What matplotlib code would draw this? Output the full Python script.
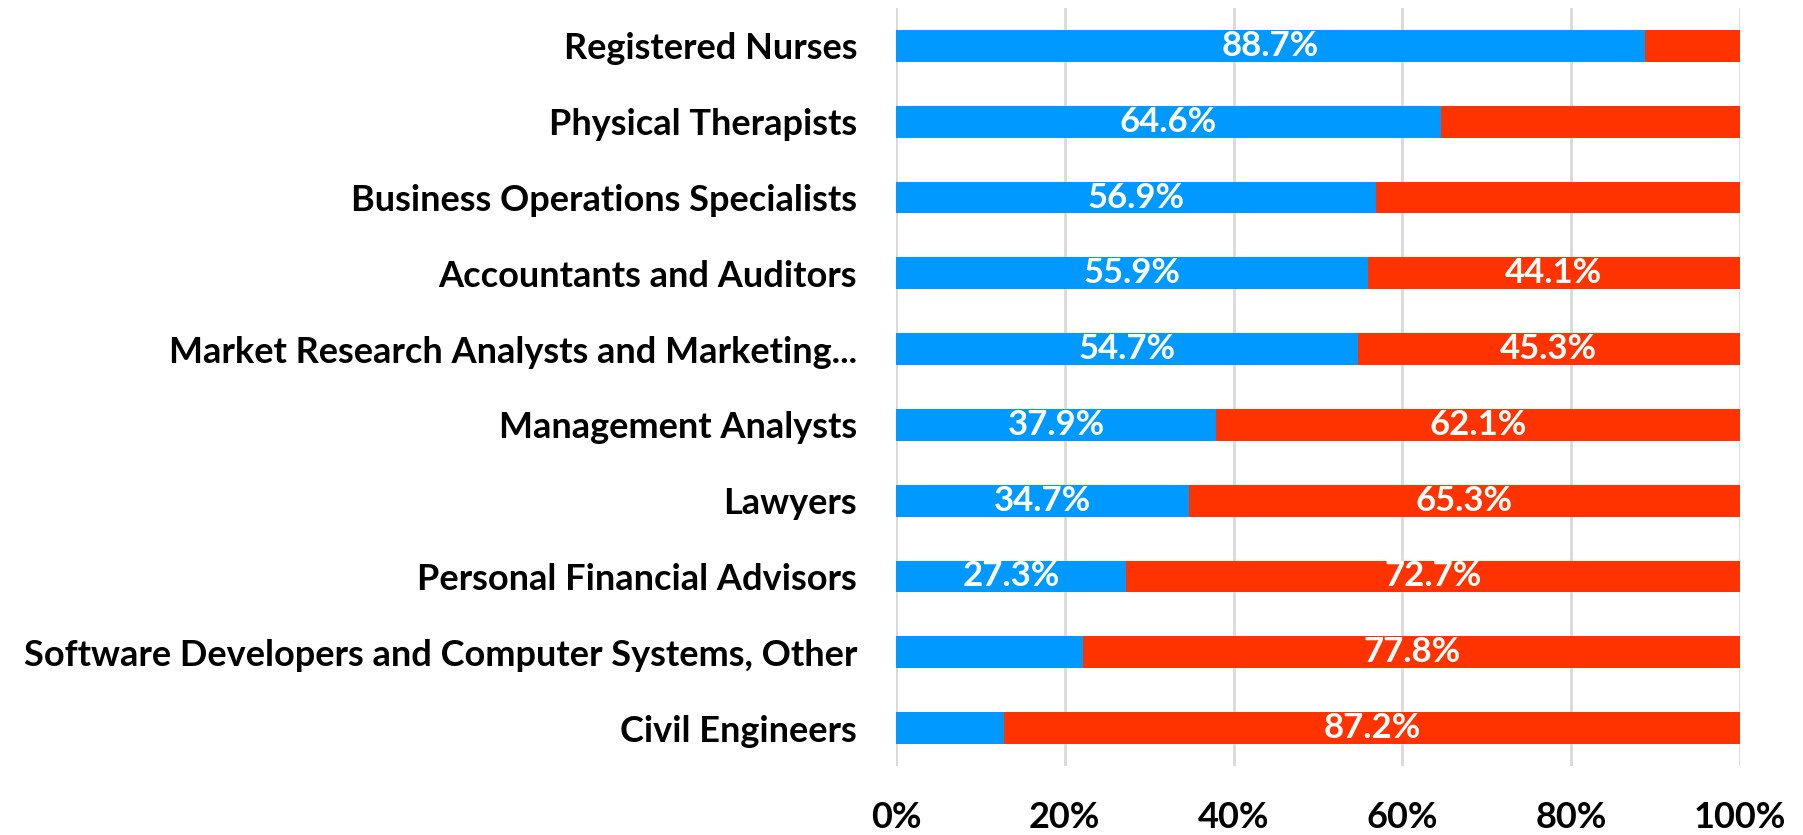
import numpy as np
import matplotlib as mpl
from matplotlib import pyplot as plt

# occupations, top to bottom as in the chart
occupations = [
    "Registered Nurses",
    "Physical Therapists",
    "Business Operations Specialists",
    "Accountants and Auditors",
    "Market Research Analysts and Marketing...",
    "Management Analysts",
    "Lawyers",
    "Personal Financial Advisors",
    "Software Developers and Computer Systems, Other",
    "Civil Engineers",
]
women_pct = [88.7, 64.6, 56.9, 55.9, 54.7, 37.9, 34.7, 27.3, 22.2, 12.8]
men_pct = [11.3, 35.4, 43.1, 44.1, 45.3, 62.1, 65.3, 72.7, 77.8, 87.2]
# which segments carry a value label in the original
women_shown = [True, True, True, True, True, True, True, True, False, False]
men_shown = [False, False, False, True, True, True, True, True, True, True]
x_ticks = [0, 20, 40, 60, 80, 100]

blue = '#0099FF'
red = '#FF3300'
font = 'Lato'

fig = plt.figure(figsize=(18.03, 8.35), dpi=100)
ax = fig.add_axes([896 / 1803, 1 - 766 / 835, 844 / 1803, 758 / 835])

y = np.arange(len(occupations))[::-1]
women = np.array(women_pct) / 100
men = np.array(men_pct) / 100

b1 = ax.barh(y, women, height=0.42, color=blue, zorder=2)
b2 = ax.barh(y, men, left=women, height=0.42, color=red, zorder=2)

ax.bar_label(b1, labels=[f'{v:.1f}%' if s else '' for v, s in zip(women_pct, women_shown)],
             label_type='center', color='white', fontsize=25, fontweight='bold', family=font)
ax.bar_label(b2, labels=[f'{v:.1f}%' if s else '' for v, s in zip(men_pct, men_shown)],
             label_type='center', color='white', fontsize=25, fontweight='bold', family=font)

ax.set_xlim(0, 1)
ax.set_ylim(-0.5, 9.5)
ax.set_xticks([t / 100 for t in x_ticks])
ax.set_xticklabels([f'{t}%' for t in x_ticks], fontsize=26, fontweight='bold', family=font)
ax.set_yticks(y)
ax.set_yticklabels(occupations, fontsize=26, fontweight='bold', family=font)
ax.tick_params(axis='x', length=0, pad=25)
ax.tick_params(axis='y', length=0, pad=28)

ax.grid(axis='x', color='#D9D9D9', linewidth=2, zorder=0)
for s in ax.spines.values():
    s.set_visible(False)

plt.savefig('out.png', dpi=100)
